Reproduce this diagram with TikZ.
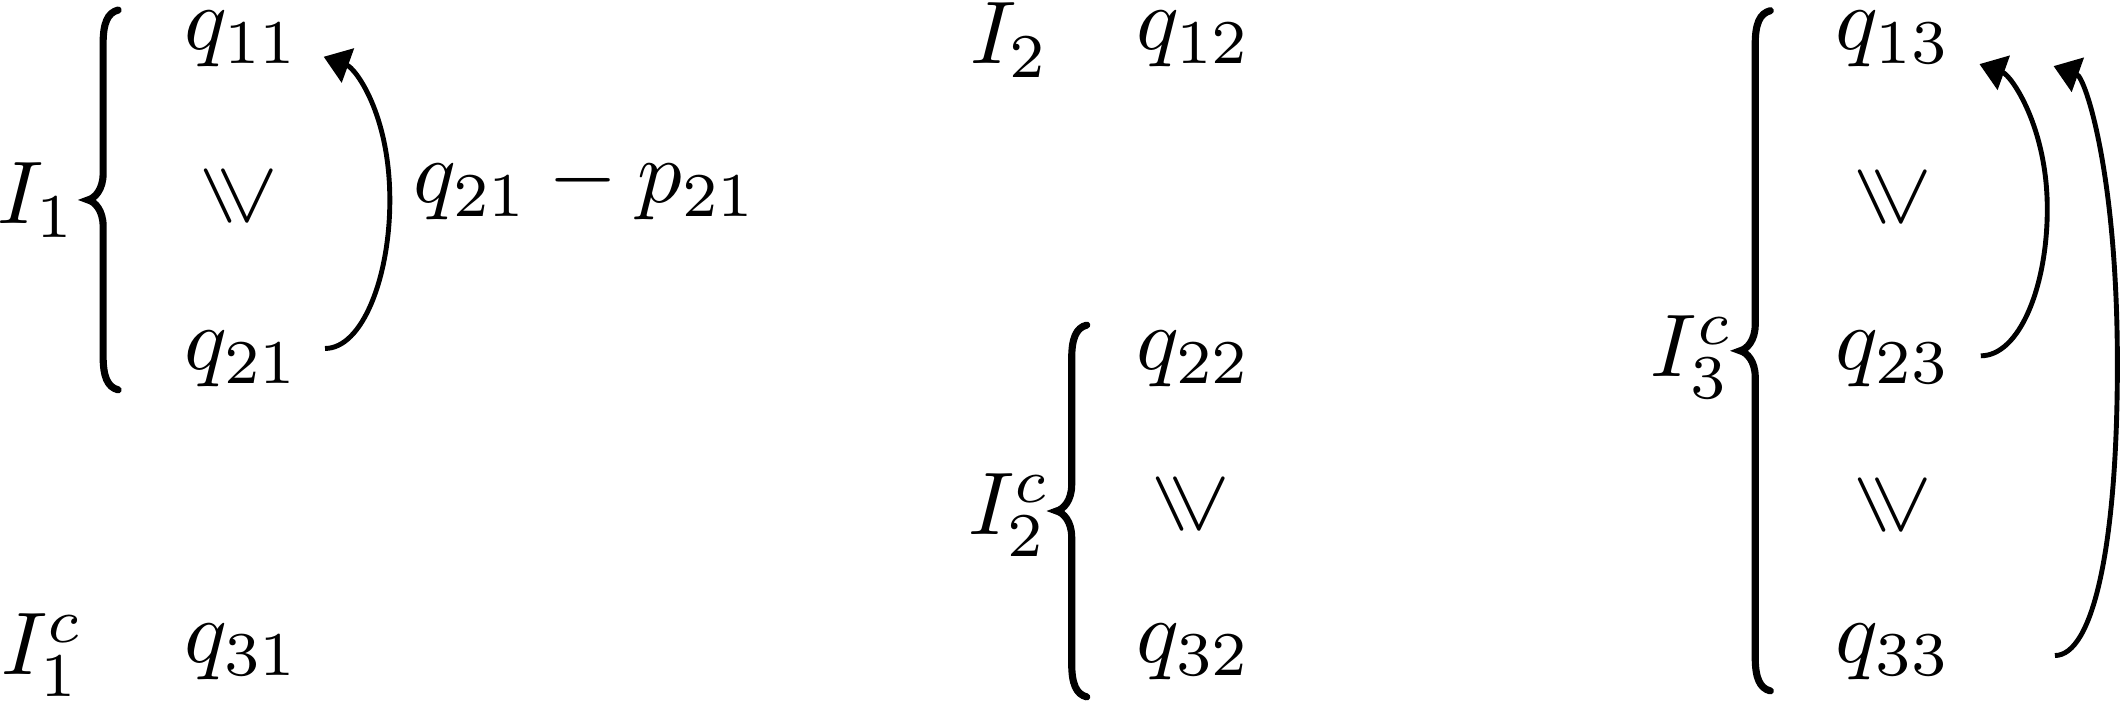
\documentclass[tikz,border=0pt]{standalone}
\usepackage{amsmath}
\usepackage{amssymb}
\usepackage{tikz}
\usetikzlibrary{arrows.meta,calc}

\begin{document}
\begin{tikzpicture}[x=0.75pt,y=0.75pt,yscale=-1,xscale=1,
        lbl/.style={inner sep=0.75pt},
        geq/.style={inner sep=0.75pt,rotate=-90},
        brc/.style={line width=0.8pt,line cap=round},
        arr/.style={line width=0.55pt,-{Triangle[length=2.9pt,width=4pt]}}]
        \useasboundingbox (0,0) rectangle (317.9,106.1);

        % Text Node
        \node[lbl] (I1) at (5.55,29.95) {$I_{1}$};
        % Text Node
        \node[lbl] (q11) at (36.3,5.9) {$q_{11}$};
        % Text Node
        \node[geq] (g1) at (35.8,29.4) {$\geqslant$};
        % Text Node
        \node[lbl] (q21) at (36.3,53.8) {$q_{21}$};
        % Text Node
        \node[lbl] (I1c) at (6.4,98.2) {$I_{1}^{c}$};
        % Text Node
        \node[lbl] (q31) at (36.3,97.6) {$q_{31}$};
        % Text Node
        \node[lbl,anchor=base west] (diff) at (60.7,30.4) {$q_{21} -p_{21}$};

        % Text Node
        \node[lbl] (I2) at (151.35,6.0) {$I_{2}$};
        % Text Node
        \node[lbl] (q12) at (178.85,5.9) {$q_{12}$};
        % Text Node
        \node[lbl] (I2c) at (151.2,77.15) {$I_{2}^{c}$};
        % Text Node
        \node[lbl] (q22) at (178.85,53.8) {$q_{22}$};
        % Text Node
        \node[geq] (g2) at (178.4,75.5) {$\geqslant$};
        % Text Node
        \node[lbl] (q32) at (178.85,97.6) {$q_{32}$};

        % Text Node
        \node[lbl] (I3c) at (253.5,53.5) {$I_{3}^{c}$};
        % Text Node
        \node[lbl] (q13) at (283.65,5.9) {$q_{13}$};
        % Text Node
        \node[geq] (g3a) at (283.5,29.6) {$\geqslant$};
        % Text Node
        \node[lbl] (q23) at (283.65,53.8) {$q_{23}$};
        % Text Node
        \node[geq] (g3b) at (283.5,75.7) {$\geqslant$};
        % Text Node
        \node[lbl] (q33) at (283.65,97.6) {$q_{33}$};

        %Shape: Brace
        \draw[brc] (17.7,1.5) .. controls (16.1,1.9) and (15.45,3.5) .. (15.45,6.5) -- (15.45,26.0) .. controls (15.45,28.4) and (14.2,29.7) .. (13.2,29.95) .. controls (14.2,30.2) and (15.45,31.5) .. (15.45,33.9) -- (15.45,53.4) .. controls (15.45,56.4) and (16.1,58.0) .. (17.7,58.4) ;
        %Shape: Brace
        \draw[brc] (162.8,48.7) .. controls (161.2,49.1) and (160.55,50.7) .. (160.55,53.7) -- (160.55,72.6) .. controls (160.55,75.0) and (159.3,76.3) .. (158.3,76.55) .. controls (159.3,76.8) and (160.55,78.1) .. (160.55,80.5) -- (160.55,99.4) .. controls (160.55,102.4) and (161.2,104.0) .. (162.8,104.4) ;
        %Shape: Brace
        \draw[brc] (265.2,1.6) .. controls (263.6,2.0) and (262.95,3.6) .. (262.95,6.6) -- (262.95,48.6) .. controls (262.95,51.0) and (261.7,52.3) .. (260.7,52.55) .. controls (261.7,52.8) and (262.95,54.1) .. (262.95,56.5) -- (262.95,98.5) .. controls (262.95,101.5) and (263.6,103.1) .. (265.2,103.5) ;

        %Curve Lines
        \draw[arr] ($(q21.east)+(2.5,-1.6)$) .. controls (54.3,52.2) and (58.4,41.5) .. (58.4,30) .. controls (58.4,17) and (53.2,10.2) .. ($(q11.east)+(2.3,2.6)$) ;
        %Curve Lines
        \draw[arr] ($(q23.east)+(3.2,-0.5)$) .. controls (302.5,53.3) and (306.7,43) .. (306.7,31.3) .. controls (306.7,19) and (301.3,11.3) .. ($(q13.east)+(3.0,3.7)$) ;
        %Curve Lines
        \draw[arr] ($(q33.east)+(14.3,0.6)$) .. controls (313.5,98.2) and (317.2,82) .. (317.2,54.5) .. controls (317.2,26) and (312.4,11.6) .. ($(q13.east)+(14.1,4.0)$) ;

\end{tikzpicture}
\end{document}
